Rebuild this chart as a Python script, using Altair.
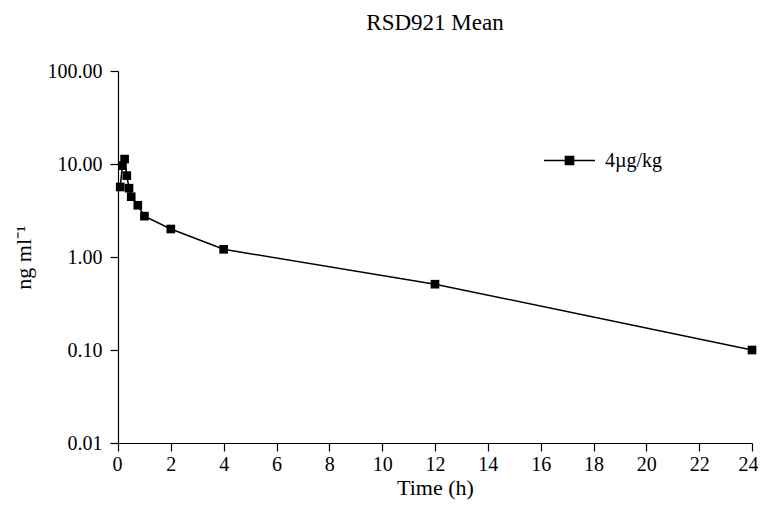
import altair as alt
import pandas as pd

time_h = [0.083, 0.167, 0.25, 0.333, 0.417, 0.5, 0.75, 1, 2, 4, 12, 24]
conc = [5.66, 9.6, 11.3, 7.5, 5.5, 4.45, 3.6, 2.75, 2.0, 1.21, 0.51, 0.10]
series = ["4\u00b5g/kg"] * len(time_h)
x_ticks = list(range(0, 25, 2))
y_ticks = [0.01, 0.1, 1, 10, 100]

df = pd.DataFrame({"t": time_h, "c": conc, "s": series})

FONT = "Liberation Serif"

legend_symbol = "M-1,0H1M-0.16,-0.16H0.16V0.16H-0.16Z"

base = alt.Chart(df)
line = base.mark_line(color="black", strokeWidth=1.5).encode(
    x=alt.X("t:Q", scale=alt.Scale(domain=[0, 24], nice=False),
            axis=alt.Axis(values=x_ticks, title="Time (h)", grid=False,
                          labelFlush=True, labelFlushOffset=6)),
    y=alt.Y("c:Q", scale=alt.Scale(type="log", domain=[0.01, 100], nice=False),
            axis=alt.Axis(values=y_ticks, format=".2f", title="ng ml\u207b\u00b9", grid=False)),
    color=alt.Color("s:N", scale=alt.Scale(range=["black"]),
                    legend=alt.Legend(title=None, orient="none", legendX=425, legendY=63,
                                      symbolType=legend_symbol, symbolSize=2600,
                                      symbolStrokeWidth=1.5, symbolFillColor="black",
                                      symbolStrokeColor="black",
                                      labelFont=FONT, labelFontSize=20, labelColor="black",
                                      labelOffset=9)),
)
pts = base.mark_point(shape="square", filled=True, size=75, color="black", opacity=1).encode(
    x="t:Q", y="c:Q"
)

chart = (line + pts).properties(
    width=634, height=372,
    title=alt.TitleParams("RSD921 Mean", font=FONT, fontSize=23, fontWeight="normal",
                          color="black", offset=26),
    autosize=alt.AutoSizeParams(type="none"),
    padding={"left": 110, "top": 63, "right": 6, "bottom": 58},
).configure_view(stroke=None).configure_axis(
    domainColor="black", domainWidth=1.2, tickColor="black", tickWidth=1.2, tickSize=8,
    labelFont=FONT, labelFontSize=20, labelColor="black",
    titleFont=FONT, titleFontSize=22, titleFontWeight="normal", titleColor="black",
).configure_axisX(labelPadding=3, titlePadding=3).configure_axisY(labelPadding=8, titlePadding=12)

chart.save("out.html", embed_options={"renderer": "svg", "actions": False})
